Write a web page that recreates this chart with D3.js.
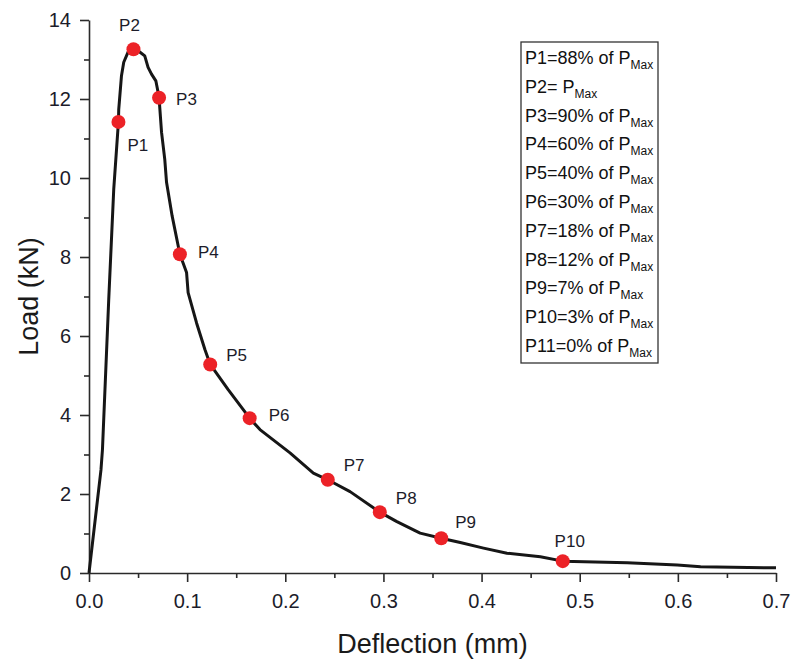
<!DOCTYPE html>
<html>
<head>
<meta charset="utf-8">
<script src="https://cdn.jsdelivr.net/npm/d3@7"></script>
<style>
  body { margin: 0; background: #fff; }
  svg { display: block; font-family: "Liberation Sans", Arial, sans-serif; }
</style>
</head>
<body>
<div id="chart"></div>
<script>
// load-deflection curve
const deflection = [0, 0.0122, 0.0137, 0.0201, 0.0252, 0.0300, 0.0303, 0.0331, 0.0354, 0.0400, 0.0453,
  0.0517, 0.0568, 0.0602, 0.0637, 0.0681, 0.0704, 0.0714, 0.0739, 0.0772, 0.0790,
  0.0847, 0.0926, 0.0994, 0.1010, 0.1096, 0.1181, 0.1235, 0.1418, 0.1637, 0.1742,
  0.2048, 0.2286, 0.2433, 0.2660, 0.2963, 0.3137, 0.3374, 0.3589, 0.3783, 0.4020,
  0.4259, 0.4599, 0.4827, 0.4939, 0.5484, 0.5994, 0.6232, 0.70];
const load = [0, 2.61, 3.12, 6.92, 9.71, 11.42, 11.74, 12.59, 12.93, 13.20, 13.26,
  13.19, 13.09, 12.80, 12.63, 12.46, 12.17, 12.03, 11.16, 10.47, 9.89,
  9.04, 8.07, 7.61, 7.10, 6.33, 5.66, 5.28, 4.64, 3.92, 3.63,
  3.04, 2.53, 2.36, 2.06, 1.54, 1.30, 1.01, 0.88, 0.77, 0.63,
  0.50, 0.41, 0.30, 0.29, 0.26, 0.20, 0.16, 0.13];

// marked points
const pointNames = ["P1", "P2", "P3", "P4", "P5", "P6", "P7", "P8", "P9", "P10"];
const pointX = [0.0300, 0.0453, 0.0714, 0.0926, 0.1235, 0.1637, 0.2433, 0.2963, 0.3589, 0.4827];
const pointY = [11.42, 13.26, 12.03, 8.07, 5.28, 3.92, 2.36, 1.54, 0.88, 0.30];

// legend text (main part + subscript)
const legendMain = ["P1=88% of P", "P2= P", "P3=90% of P", "P4=60% of P", "P5=40% of P",
  "P6=30% of P", "P7=18% of P", "P8=12% of P", "P9=7% of P", "P10=3% of P", "P11=0% of P"];
const legendSub = "Max";

const xTicks = [0, 0.1, 0.2, 0.3, 0.4, 0.5, 0.6, 0.7];
const xMinor = [0.05, 0.15, 0.25, 0.35, 0.45, 0.55, 0.65];
const yTicks = [0, 2, 4, 6, 8, 10, 12, 14];
const yMinor = [1, 3, 5, 7, 9, 11, 13];

// label placement next to each point: [dx, dy, anchor]
const labelPos = {
  P1: [9, 29, "start"], P2: [-4, -18, "middle"], P3: [17, 7, "start"], P4: [18, 4, "start"],
  P5: [16, -3, "start"], P6: [19, 3, "start"], P7: [16, -9, "start"], P8: [16, -8, "start"],
  P9: [14, -10, "start"], P10: [7, -14, "middle"]
};

function draw() {
  const W = 793, H = 662;
  const margin = { top: 20, right: 17, bottom: 89, left: 89 };
  const width = W - margin.left - margin.right,
        height = H - margin.top - margin.bottom;

  const svg = d3.select("#chart").append("svg")
      .attr("width", W).attr("height", H);
  const g = svg.append("g")
      .attr("transform", `translate(${margin.left},${margin.top})`);

  const x = d3.scaleLinear().domain([0, 0.7]).range([0, width]);
  const y = d3.scaleLinear().domain([0, 14]).range([height, 0]);

  // minor ticks
  g.append("g").attr("class", "minor")
    .attr("transform", `translate(0,${height})`)
    .call(d3.axisBottom(x).tickValues(xMinor).tickSize(5).tickFormat(""));
  g.append("g").attr("class", "minor")
    .call(d3.axisLeft(y).tickValues(yMinor).tickSize(5).tickFormat(""));
  g.selectAll(".minor .domain").remove();

  // major axes
  const xAxis = g.append("g")
    .attr("transform", `translate(0,${height})`)
    .call(d3.axisBottom(x).tickValues(xTicks).tickSize(9).tickSizeOuter(0).tickPadding(12)
      .tickFormat(d3.format(".1f")));
  const yAxis = g.append("g")
    .call(d3.axisLeft(y).tickValues(yTicks).tickSize(9).tickSizeOuter(0).tickPadding(9));

  g.selectAll(".tick line, .domain").attr("stroke", "#2a2a2a").attr("stroke-width", 1.6);
  [xAxis, yAxis].forEach(a => a.selectAll("text")
    .attr("font-size", 20).attr("fill", "#1c1c2a").attr("font-family", "Liberation Sans, Arial"));

  // axis titles
  svg.append("text")
    .attr("x", margin.left + x(0.35)).attr("y", 653)
    .attr("text-anchor", "middle").attr("font-size", 27).attr("fill", "#1a1a1a")
    .text("Deflection (mm)");
  svg.append("text")
    .attr("transform", `translate(38,${margin.top + y(7)}) rotate(-90)`)
    .attr("text-anchor", "middle").attr("font-size", 27).attr("fill", "#1a1a1a")
    .text("Load (kN)");

  // curve
  const curve = deflection.map((d, i) => [d, load[i]]);
  g.append("path")
    .datum(curve)
    .attr("fill", "none").attr("stroke", "#161616").attr("stroke-width", 3)
    .attr("stroke-linejoin", "round")
    .attr("d", d3.line().x(d => x(d[0])).y(d => y(d[1])));

  // points
  const pts = pointNames.map((n, i) => ({ name: n, x: pointX[i], y: pointY[i] }));
  g.selectAll(".pt").data(pts).enter().append("circle")
    .attr("class", "pt")
    .attr("cx", d => x(d.x)).attr("cy", d => y(d.y)).attr("r", 7)
    .attr("fill", "#ec2227");
  g.selectAll(".plabel").data(pts).enter().append("text")
    .attr("class", "plabel")
    .attr("x", d => x(d.x) + labelPos[d.name][0])
    .attr("y", d => y(d.y) + labelPos[d.name][1])
    .attr("text-anchor", d => labelPos[d.name][2])
    .attr("font-size", 17).attr("fill", "#1c1c2a")
    .text(d => d.name);

  // legend box
  const lg = svg.append("g").attr("transform", "translate(521,42)");
  lg.append("rect")
    .attr("width", 137).attr("height", 321)
    .attr("fill", "#fff").attr("stroke", "#333").attr("stroke-width", 1.3);
  const rows = lg.selectAll(".lrow").data(legendMain).enter().append("text")
    .attr("class", "lrow")
    .attr("x", 4).attr("y", (d, i) => 22 + i * 28.8)
    .attr("font-size", 18).attr("fill", "#111");
  rows.append("tspan").text(d => d);
  rows.append("tspan").attr("dy", 5).attr("font-size", 12).text(legendSub);
}

window.onload = draw;
</script>
</body>
</html>
